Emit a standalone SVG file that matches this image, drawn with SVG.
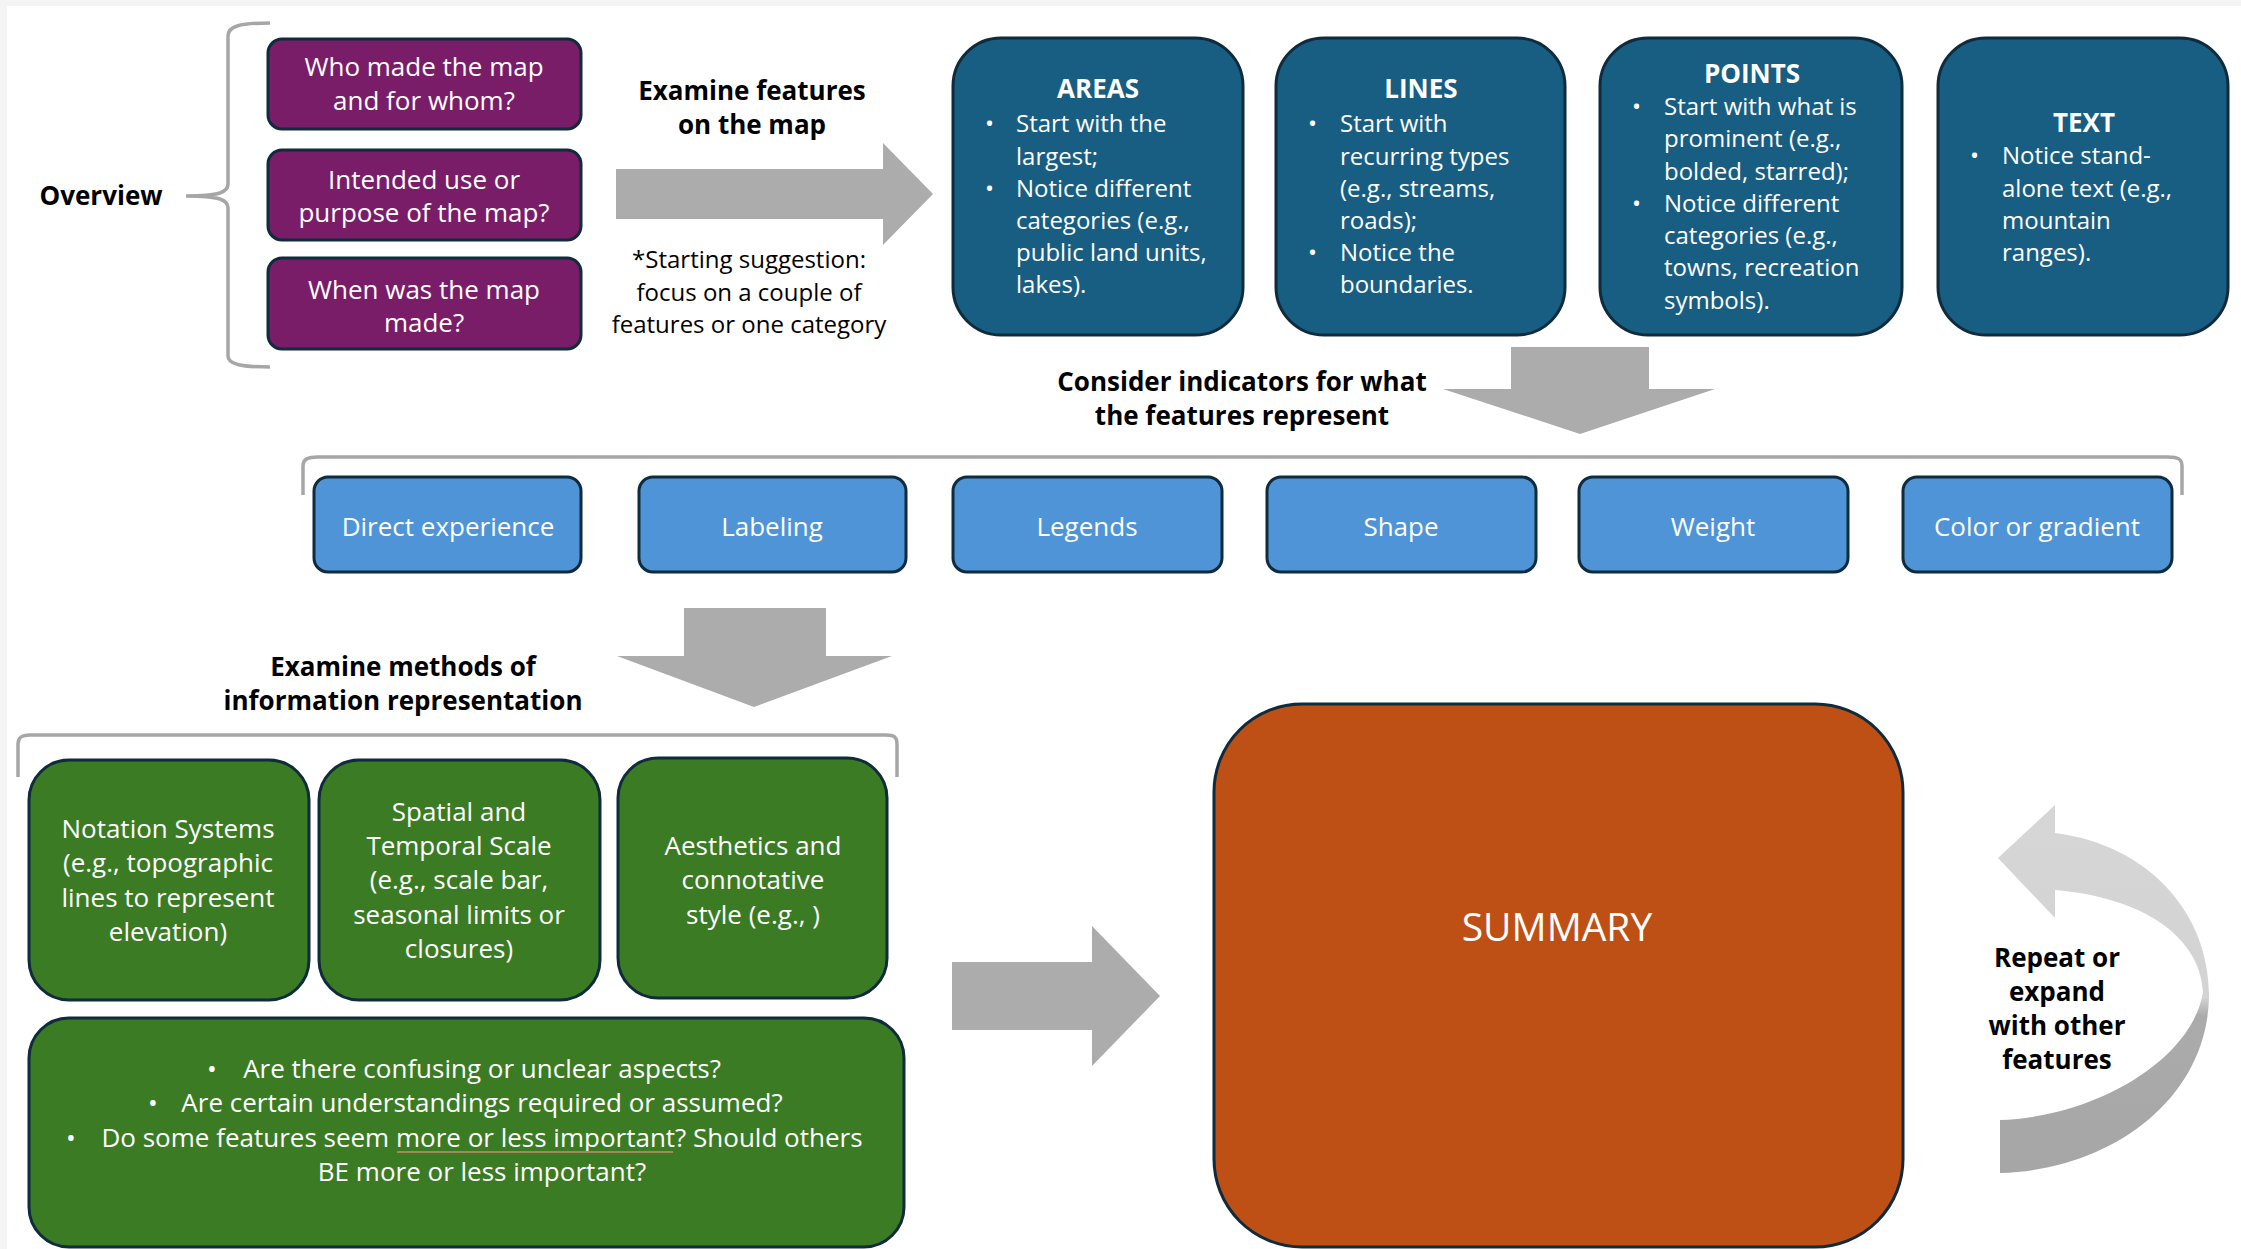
<svg xmlns="http://www.w3.org/2000/svg" width="2241" height="1249" viewBox="0 0 2241 1249">
  <defs>
    <style>
      text { font-family: "Open Sans", "Liberation Sans", sans-serif; }
      .w { fill: #ffffff; font-size: 26px; }
      .wb { fill: #ffffff; font-size: 26px; font-weight: bold; }
      .wt { fill: #ffffff; font-size: 24px; }
      .k { fill: #000000; font-size: 26px; font-weight: bold; }
      .kr { fill: #000000; font-size: 24px; }
      .mid { text-anchor: middle; }
      .box { stroke: #0f2b3c; stroke-width: 3; }
      .purple { fill: #7a1d69; }
      .navy { fill: #185e82; }
      .blue { fill: #4f94d7; }
      .green { fill: #3a7b23; }
      .orange { fill: #be5016; }
      .brace { fill: none; stroke: #a6a6a6; stroke-width: 3.5; }
      .arrow { fill: #acacac; }
    </style>
    <linearGradient id="loopGrad" gradientUnits="userSpaceOnUse" x1="0" y1="805" x2="0" y2="1175">
      <stop offset="0" stop-color="#d6d6d6"/>
      <stop offset="0.52" stop-color="#d3d3d3"/>
      <stop offset="0.57" stop-color="#ababab"/>
      <stop offset="1" stop-color="#a6a6a6"/>
    </linearGradient>
  </defs>

  <rect x="0" y="0" width="2241" height="1249" fill="#f4f4f4"/>
  <rect x="7" y="6" width="2234" height="1243" fill="#ffffff"/>

  <!-- connectors: braces and block arrows -->
  <g id="connectors">
    <path class="brace" d="M270,23 C240,23 228,26 228,36 L228,184 C228,192 220,196 186,196 C220,196 228,200 228,208 L228,356 C228,364 240,367 270,367"/>
    <path class="brace" d="M303,495 L303,466 C303,459 308,457 318,457 L2168,457 C2178,457 2182,459 2182,466 L2182,495"/>
    <path class="brace" d="M18,777 L18,744 C18,737 22,735 30,735 L886,735 C894,735 897,737 897,744 L897,777"/>
    <polygon class="arrow" points="616,169 883,169 883,143 933,194 883,245 883,219 616,219"/>
    <polygon class="arrow" points="1511,347 1649,347 1649,389 1715,389 1580,434 1443,389 1511,389"/>
    <polygon class="arrow" points="684,608 826,608 826,656 892,656 754,707 617,656 684,656"/>
    <polygon class="arrow" points="952,962 1092,962 1092,926 1160,996 1092,1066 1092,1030 952,1030"/>
    <path fill="url(#loopGrad)" d="M2055,833 C2150,845 2210,915 2209,997 C2207,1100 2110,1170 2000,1173 L2000,1120 C2095,1117 2192,1060 2203,992 C2200,935 2140,897 2055,890 L2055,918 L1998,858 L2055,805 Z"/>
  </g>

  <g id="overview">
    <text class="k mid" x="101" y="205">Overview</text>
  </g>

  <g id="who">
    <rect class="box purple" x="268" y="39" width="313" height="90" rx="14"/>
    <text class="w mid" x="424" y="76">Who made the map</text>
    <text class="w mid" x="424" y="110">and for whom?</text>
  </g>
  <g id="purpose">
    <rect class="box purple" x="268" y="150" width="313" height="90" rx="14"/>
    <text class="w mid" x="424" y="189">Intended use or</text>
    <text class="w mid" x="424" y="222">purpose of the map?</text>
  </g>
  <g id="when">
    <rect class="box purple" x="268" y="258" width="313" height="91" rx="14"/>
    <text class="w mid" x="424" y="299">When was the map</text>
    <text class="w mid" x="424" y="332">made?</text>
  </g>

  <g id="examine-features">
    <text class="k mid" x="752" y="100">Examine features</text>
    <text class="k mid" x="752" y="134">on the map</text>
  </g>
  <g id="starting-suggestion">
    <text class="kr mid" x="749" y="268">*Starting suggestion:</text>
    <text class="kr mid" x="749" y="301">focus on a couple of</text>
    <text class="kr mid" x="749" y="333">features or one category</text>
  </g>

  <g id="areas">
    <rect class="box navy" x="953" y="38" width="290" height="297" rx="48"/>
    <text class="wb mid" x="1098" y="98">AREAS</text>
    <text class="wt" x="985" y="132">•</text>
    <text class="wt" x="1016" y="132">Start with the</text>
    <text class="wt" x="1016" y="165">largest;</text>
    <text class="wt" x="985" y="197">•</text>
    <text class="wt" x="1016" y="197">Notice different</text>
    <text class="wt" x="1016" y="229">categories (e.g.,</text>
    <text class="wt" x="1016" y="261">public land units,</text>
    <text class="wt" x="1016" y="293">lakes).</text>
  </g>
  <g id="lines">
    <rect class="box navy" x="1276" y="38" width="289" height="297" rx="48"/>
    <text class="wb mid" x="1421" y="98">LINES</text>
    <text class="wt" x="1308" y="132">•</text>
    <text class="wt" x="1340" y="132">Start with</text>
    <text class="wt" x="1340" y="165">recurring types</text>
    <text class="wt" x="1340" y="197">(e.g., streams,</text>
    <text class="wt" x="1340" y="229">roads);</text>
    <text class="wt" x="1308" y="261">•</text>
    <text class="wt" x="1340" y="261">Notice the</text>
    <text class="wt" x="1340" y="293">boundaries.</text>
  </g>
  <g id="points">
    <rect class="box navy" x="1600" y="38" width="302" height="297" rx="48"/>
    <text class="wb mid" x="1752" y="83">POINTS</text>
    <text class="wt" x="1632" y="115">•</text>
    <text class="wt" x="1664" y="115">Start with what is</text>
    <text class="wt" x="1664" y="147">prominent (e.g.,</text>
    <text class="wt" x="1664" y="180">bolded, starred);</text>
    <text class="wt" x="1632" y="212">•</text>
    <text class="wt" x="1664" y="212">Notice different</text>
    <text class="wt" x="1664" y="244">categories (e.g.,</text>
    <text class="wt" x="1664" y="276">towns, recreation</text>
    <text class="wt" x="1664" y="309">symbols).</text>
  </g>
  <g id="text-box">
    <rect class="box navy" x="1938" y="38" width="290" height="297" rx="48"/>
    <text class="wb mid" x="2084" y="132">TEXT</text>
    <text class="wt" x="1970" y="164">•</text>
    <text class="wt" x="2002" y="164">Notice stand-</text>
    <text class="wt" x="2002" y="197">alone text (e.g.,</text>
    <text class="wt" x="2002" y="229">mountain</text>
    <text class="wt" x="2002" y="261">ranges).</text>
  </g>

  <g id="consider-indicators">
    <text class="k mid" x="1242" y="391">Consider indicators for what</text>
    <text class="k mid" x="1242" y="425">the features represent</text>
  </g>

  <g id="direct-experience">
    <rect class="box blue" x="314" y="477" width="267" height="95" rx="14"/>
    <text class="w mid" x="448" y="536">Direct experience</text>
  </g>
  <g id="labeling">
    <rect class="box blue" x="639" y="477" width="267" height="95" rx="14"/>
    <text class="w mid" x="772" y="536">Labeling</text>
  </g>
  <g id="legends">
    <rect class="box blue" x="953" y="477" width="269" height="95" rx="14"/>
    <text class="w mid" x="1087" y="536">Legends</text>
  </g>
  <g id="shape">
    <rect class="box blue" x="1267" y="477" width="269" height="95" rx="14"/>
    <text class="w mid" x="1401" y="536">Shape</text>
  </g>
  <g id="weight">
    <rect class="box blue" x="1579" y="477" width="269" height="95" rx="14"/>
    <text class="w mid" x="1713" y="536">Weight</text>
  </g>
  <g id="color-gradient">
    <rect class="box blue" x="1903" y="477" width="269" height="95" rx="14"/>
    <text class="w mid" x="2037" y="536">Color or gradient</text>
  </g>

  <g id="examine-methods">
    <text class="k mid" x="403" y="676">Examine methods of</text>
    <text class="k mid" x="403" y="710">information representation</text>
  </g>

  <g id="notation">
    <rect class="box green" x="29" y="760" width="280" height="240" rx="40"/>
    <text class="w mid" x="168" y="838">Notation Systems</text>
    <text class="w mid" x="168" y="872">(e.g., topographic</text>
    <text class="w mid" x="168" y="907">lines to represent</text>
    <text class="w mid" x="168" y="941">elevation)</text>
  </g>
  <g id="spatial">
    <rect class="box green" x="319" y="760" width="281" height="240" rx="40"/>
    <text class="w mid" x="459" y="821">Spatial and</text>
    <text class="w mid" x="459" y="855">Temporal Scale</text>
    <text class="w mid" x="459" y="889">(e.g., scale bar,</text>
    <text class="w mid" x="459" y="924">seasonal limits or</text>
    <text class="w mid" x="459" y="958">closures)</text>
  </g>
  <g id="aesthetics">
    <rect class="box green" x="618" y="758" width="269" height="240" rx="40"/>
    <text class="w mid" x="753" y="855">Aesthetics and</text>
    <text class="w mid" x="753" y="889">connotative</text>
    <text class="w mid" x="753" y="924">style (e.g., )</text>
  </g>
  <g id="questions">
    <rect class="box green" x="29" y="1018" width="875" height="229" rx="40"/>
    <text class="w" x="207" y="1078">•</text>
    <text class="w mid" x="482" y="1078">Are there confusing or unclear aspects?</text>
    <text class="w" x="148" y="1112">•</text>
    <text class="w mid" x="482" y="1112">Are certain understandings required or assumed?</text>
    <text class="w" x="66" y="1147">•</text>
    <text class="w mid" x="482" y="1147">Do some features seem more or less important? Should others</text>
    <line x1="397" y1="1152" x2="673" y2="1152" stroke="#a08a5a" stroke-width="2"/>
    <text class="w mid" x="482" y="1181">BE more or less important?</text>
  </g>

  <g id="summary">
    <rect class="box orange" x="1214" y="704" width="689" height="543" rx="88"/>
    <text class="mid" x="1557" y="941" fill="#ffffff" font-size="39">SUMMARY</text>
  </g>

  <g id="repeat">
    <text class="k mid" x="2057" y="967">Repeat or</text>
    <text class="k mid" x="2057" y="1001">expand</text>
    <text class="k mid" x="2057" y="1035">with other</text>
    <text class="k mid" x="2057" y="1069">features</text>
  </g>
</svg>
